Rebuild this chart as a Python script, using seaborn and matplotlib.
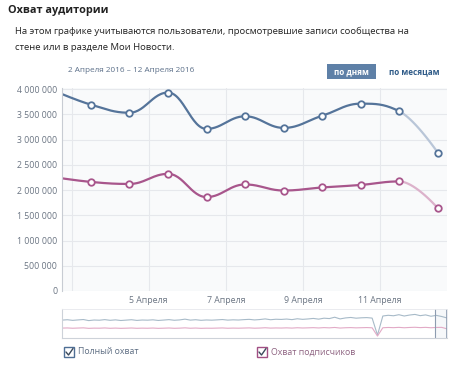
import numpy as np
import pandas as pd
import matplotlib
matplotlib.use('Agg')
import matplotlib.pyplot as plt
import seaborn as sns
from matplotlib.patches import Rectangle
from matplotlib.lines import Line2D

# data (values in people, x = day of April)
days = [2, 3, 4, 5, 6, 7, 8, 9, 10, 11, 12]
total_reach = [3980000, 3690000, 3530000, 3930000, 3210000, 3460000,
               3230000, 3470000, 3710000, 3560000, 2740000]
subs_reach = [2260000, 2160000, 2120000, 2320000, 1860000, 2110000,
              1990000, 2050000, 2100000, 2170000, 1640000]
tick_days = [3, 5, 7, 9, 11]
tick_labels = ['', '5 Апреля', '7 Апреля', '9 Апреля', '11 Апреля']
y_ticks = [0, 500000, 1000000, 1500000, 2000000, 2500000, 3000000, 3500000, 4000000]

# overview strip (millions), long history
nav_total = [3.70, 3.78, 3.65, 3.74, 3.82, 3.60, 3.72, 3.68, 3.80, 3.66,
             3.75, 3.62, 3.70, 3.78, 3.64, 3.72, 3.69, 3.76, 3.63, 3.71,
             3.80, 3.67, 3.74, 3.90, 3.70, 3.78, 3.66, 3.73, 3.69, 3.75,
             3.82, 3.70, 3.76, 3.72, 3.80, 3.86, 3.74, 3.82, 3.95, 3.78,
             3.88, 3.84, 3.92, 3.80, 3.98, 3.86, 3.94, 4.05, 3.90, 4.10,
             4.02, 4.30, 3.95, 4.15, 4.25, 4.10, 4.18, 4.22, 4.12, 0.60,
             4.55, 4.70, 4.60, 4.82, 4.55, 4.75, 4.88, 4.62, 4.78, 4.50,
             4.68, 4.45, 4.15]
nav_subs = [2.05, 2.08, 2.02, 2.06, 2.10, 2.00, 2.04, 2.03, 2.08, 2.01,
            2.05, 2.00, 2.03, 2.07, 2.01, 2.04, 2.02, 2.06, 2.00, 2.03,
            2.07, 2.01, 2.04, 2.10, 2.02, 2.06, 2.00, 2.03, 2.02, 2.05,
            2.08, 2.02, 2.05, 2.03, 2.06, 2.09, 2.03, 2.06, 2.12, 2.05,
            2.08, 2.06, 2.10, 2.05, 2.12, 2.07, 2.10, 2.14, 2.08, 2.15,
            2.10, 2.18, 2.06, 2.12, 2.15, 2.10, 2.13, 2.16, 2.11, 0.40,
            2.12, 2.18, 2.14, 2.20, 2.12, 2.18, 2.22, 2.15, 2.20, 2.12,
            2.18, 2.20, 1.90]

W, H = 457, 373
BLUE = '#55749a'
BLUE_L = '#b9c6d8'
PINK = '#a8568c'
PINK_L = '#dcb2cb'

sns.set_theme(style='white')
plt.rcParams['font.family'] = ['Open Sans', 'DejaVu Sans']

fig = plt.figure(figsize=(W / 100, H / 100), dpi=100)
fig.patch.set_facecolor('white')


def px(x, y):
    return x / W, 1 - y / H


def spline(xs, ys, sm=1.5):
    # highcharts-like spline, one bezier per segment
    n = len(xs)
    lc, rc = [None] * n, [None] * n
    for i in range(n):
        x, y = xs[i], ys[i]
        if 0 < i < n - 1:
            px_, py_ = xs[i - 1], ys[i - 1]
            nx_, ny_ = xs[i + 1], ys[i + 1]
            d = sm + 1
            lcx, lcy = (sm * x + px_) / d, (sm * y + py_) / d
            rcx, rcy = (sm * x + nx_) / d, (sm * y + ny_) / d
            corr = (rcy - lcy) * (rcx - x) / (rcx - lcx) + y - rcy
            lcy += corr
            rcy += corr
            if lcy > max(py_, y):
                lcy = max(py_, y); rcy = 2 * y - lcy
            elif lcy < min(py_, y):
                lcy = min(py_, y); rcy = 2 * y - lcy
            if rcy > max(ny_, y):
                rcy = max(ny_, y); lcy = 2 * y - rcy
            elif rcy < min(ny_, y):
                rcy = min(ny_, y); lcy = 2 * y - rcy
            lc[i], rc[i] = (lcx, lcy), (rcx, rcy)
        else:
            lc[i] = rc[i] = (x, y)
    t = np.linspace(0, 1, 30)[:, None]
    segs = []
    for i in range(1, n):
        p0 = np.array([xs[i - 1], ys[i - 1]])
        p1, p2 = np.array(rc[i - 1]), np.array(lc[i])
        p3 = np.array([xs[i], ys[i]])
        segs.append((1 - t) ** 3 * p0 + 3 * (1 - t) ** 2 * t * p1
                    + 3 * (1 - t) * t ** 2 * p2 + t ** 3 * p3)
    return segs


# ---- main chart
x0, x1, y0, y1 = 62, 447, 88, 291
ax = fig.add_axes([x0 / W, 1 - y1 / H, (x1 - x0) / W, (y1 - y0) / H])
ax.set_facecolor('#f9fafb')

xs = [d + 0.5 for d in days]
for vals, c, cl in [(total_reach, BLUE, BLUE_L), (subs_reach, PINK, PINK_L)]:
    segs = spline(xs, vals)
    main = np.vstack(segs[:-1])
    sns.lineplot(x=main[:, 0], y=main[:, 1], sort=False, estimator=None,
                 color=c, lw=1.6, ax=ax)
    last = segs[-1]
    sns.lineplot(x=last[:, 0], y=last[:, 1], sort=False, estimator=None,
                 color=cl, lw=1.6, ax=ax)
    sns.scatterplot(x=xs, y=vals, s=22, color='white', edgecolor=c,
                    linewidth=1.3, ax=ax, zorder=5, clip_on=True)

ax.set_xlim(2.75, 12.74)
ax.set_ylim(0, 4020000)
ax.set_xticks(tick_days)
ax.set_xticklabels(tick_labels)
ax.set_yticks(y_ticks)
ax.set_yticklabels([f'{v:,}'.replace(',', ' ') for v in y_ticks])
ax.grid(True, color='#e6e8ec', lw=0.8)
ax.set_axisbelow(True)
ax.tick_params(axis='both', length=0, labelsize=6.3, colors='#6b7583')
ax.tick_params(axis='x', pad=3.8)
ax.tick_params(axis='y', pad=3.5)
for s in ['top', 'right', 'bottom']:
    ax.spines[s].set_visible(False)
ax.spines['left'].set_color('#c8ccd3')
ax.spines['left'].set_linewidth(0.8)
ax.set_xlabel('')
ax.set_ylabel('')

# ---- overview strip
nx0, nx1, ny0, ny1 = 62, 447, 309, 338
nav = fig.add_axes([nx0 / W, 1 - ny1 / H, (nx1 - nx0) / W, (ny1 - ny0) / H])
nav.set_facecolor('white')
idx = np.arange(len(nav_total))
sns.lineplot(x=idx, y=nav_total, color='#a7bac8', lw=0.8, ax=nav)
sns.lineplot(x=idx, y=nav_subs, color='#e2aac6', lw=0.8, ax=nav)
n = len(nav_total) - 1
nav.set_xlim(0, n)
nav.set_ylim(0, 6.0)
sel = n * (435 - nx0) / (nx1 - nx0)
nav.axvspan(sel, n, color='#eef2f7', alpha=0.5, lw=0)
nav.axvline(sel, color='#8d9cb0', lw=0.8)
nav.axvline(n, color='#8d9cb0', lw=1.2)
nav.set_xticks([])
nav.set_yticks([])
for s in ['top', 'right']:
    nav.spines[s].set_color('#e6e8ec')
    nav.spines[s].set_linewidth(0.6)
for s in ['bottom', 'left']:
    nav.spines[s].set_color('#cdd2d9')
    nav.spines[s].set_linewidth(0.8)

# ---- header
fig.text(*px(8, 10), 'Охват аудитории', fontsize=7.8, fontweight='bold',
         color='#222222', va='center', ha='left')
fig.text(*px(15, 31), 'На этом графике учитываются пользователи, просмотревшие записи сообщества на',
         fontsize=6.8, color='#222222', va='center', ha='left')
fig.text(*px(15, 47), 'стене или в разделе Мои Новости.',
         fontsize=6.8, color='#222222', va='center', ha='left')
fig.text(*px(68, 71), '2 Апреля 2016 – 12 Апреля 2016', fontsize=5.85,
         color='#5a6e88', va='center', ha='left')

bx, by, bw, bh = 327, 64, 49, 15
fig.add_artist(Rectangle(px(bx, by + bh), bw / W, bh / H, transform=fig.transFigure,
                         facecolor='#5e80a7', edgecolor='none'))
fig.text(*px(bx + bw / 2, by + bh / 2), 'по дням', fontsize=5.9, fontweight='bold',
         color='white', va='center', ha='center')
fig.text(*px(414, 71.5), 'по месяцам', fontsize=5.9, fontweight='bold',
         color='#2f5b88', va='center', ha='center')

# ---- legend checkboxes
for cx, label, ec, tc in [(64, 'Полный охват', '#4f6f95', '#5d6d82'),
                          (257, 'Охват подписчиков', '#a24f84', '#8e6381')]:
    fig.add_artist(Rectangle(px(cx, 357), 10 / W, 10 / H, transform=fig.transFigure,
                             facecolor='white', edgecolor=ec, lw=1.0))
    fig.add_artist(Line2D([(cx + 2) / W, (cx + 4.5) / W, (cx + 9) / W],
                          [1 - 352 / H, 1 - 355 / H, 1 - 348.5 / H],
                          transform=fig.transFigure, color='#3b4a5c', lw=1.0))
    fig.text(*px(cx + 14, 352), label, fontsize=6.3, color=tc, va='center', ha='left')

plt.savefig('out.png', dpi=100)
